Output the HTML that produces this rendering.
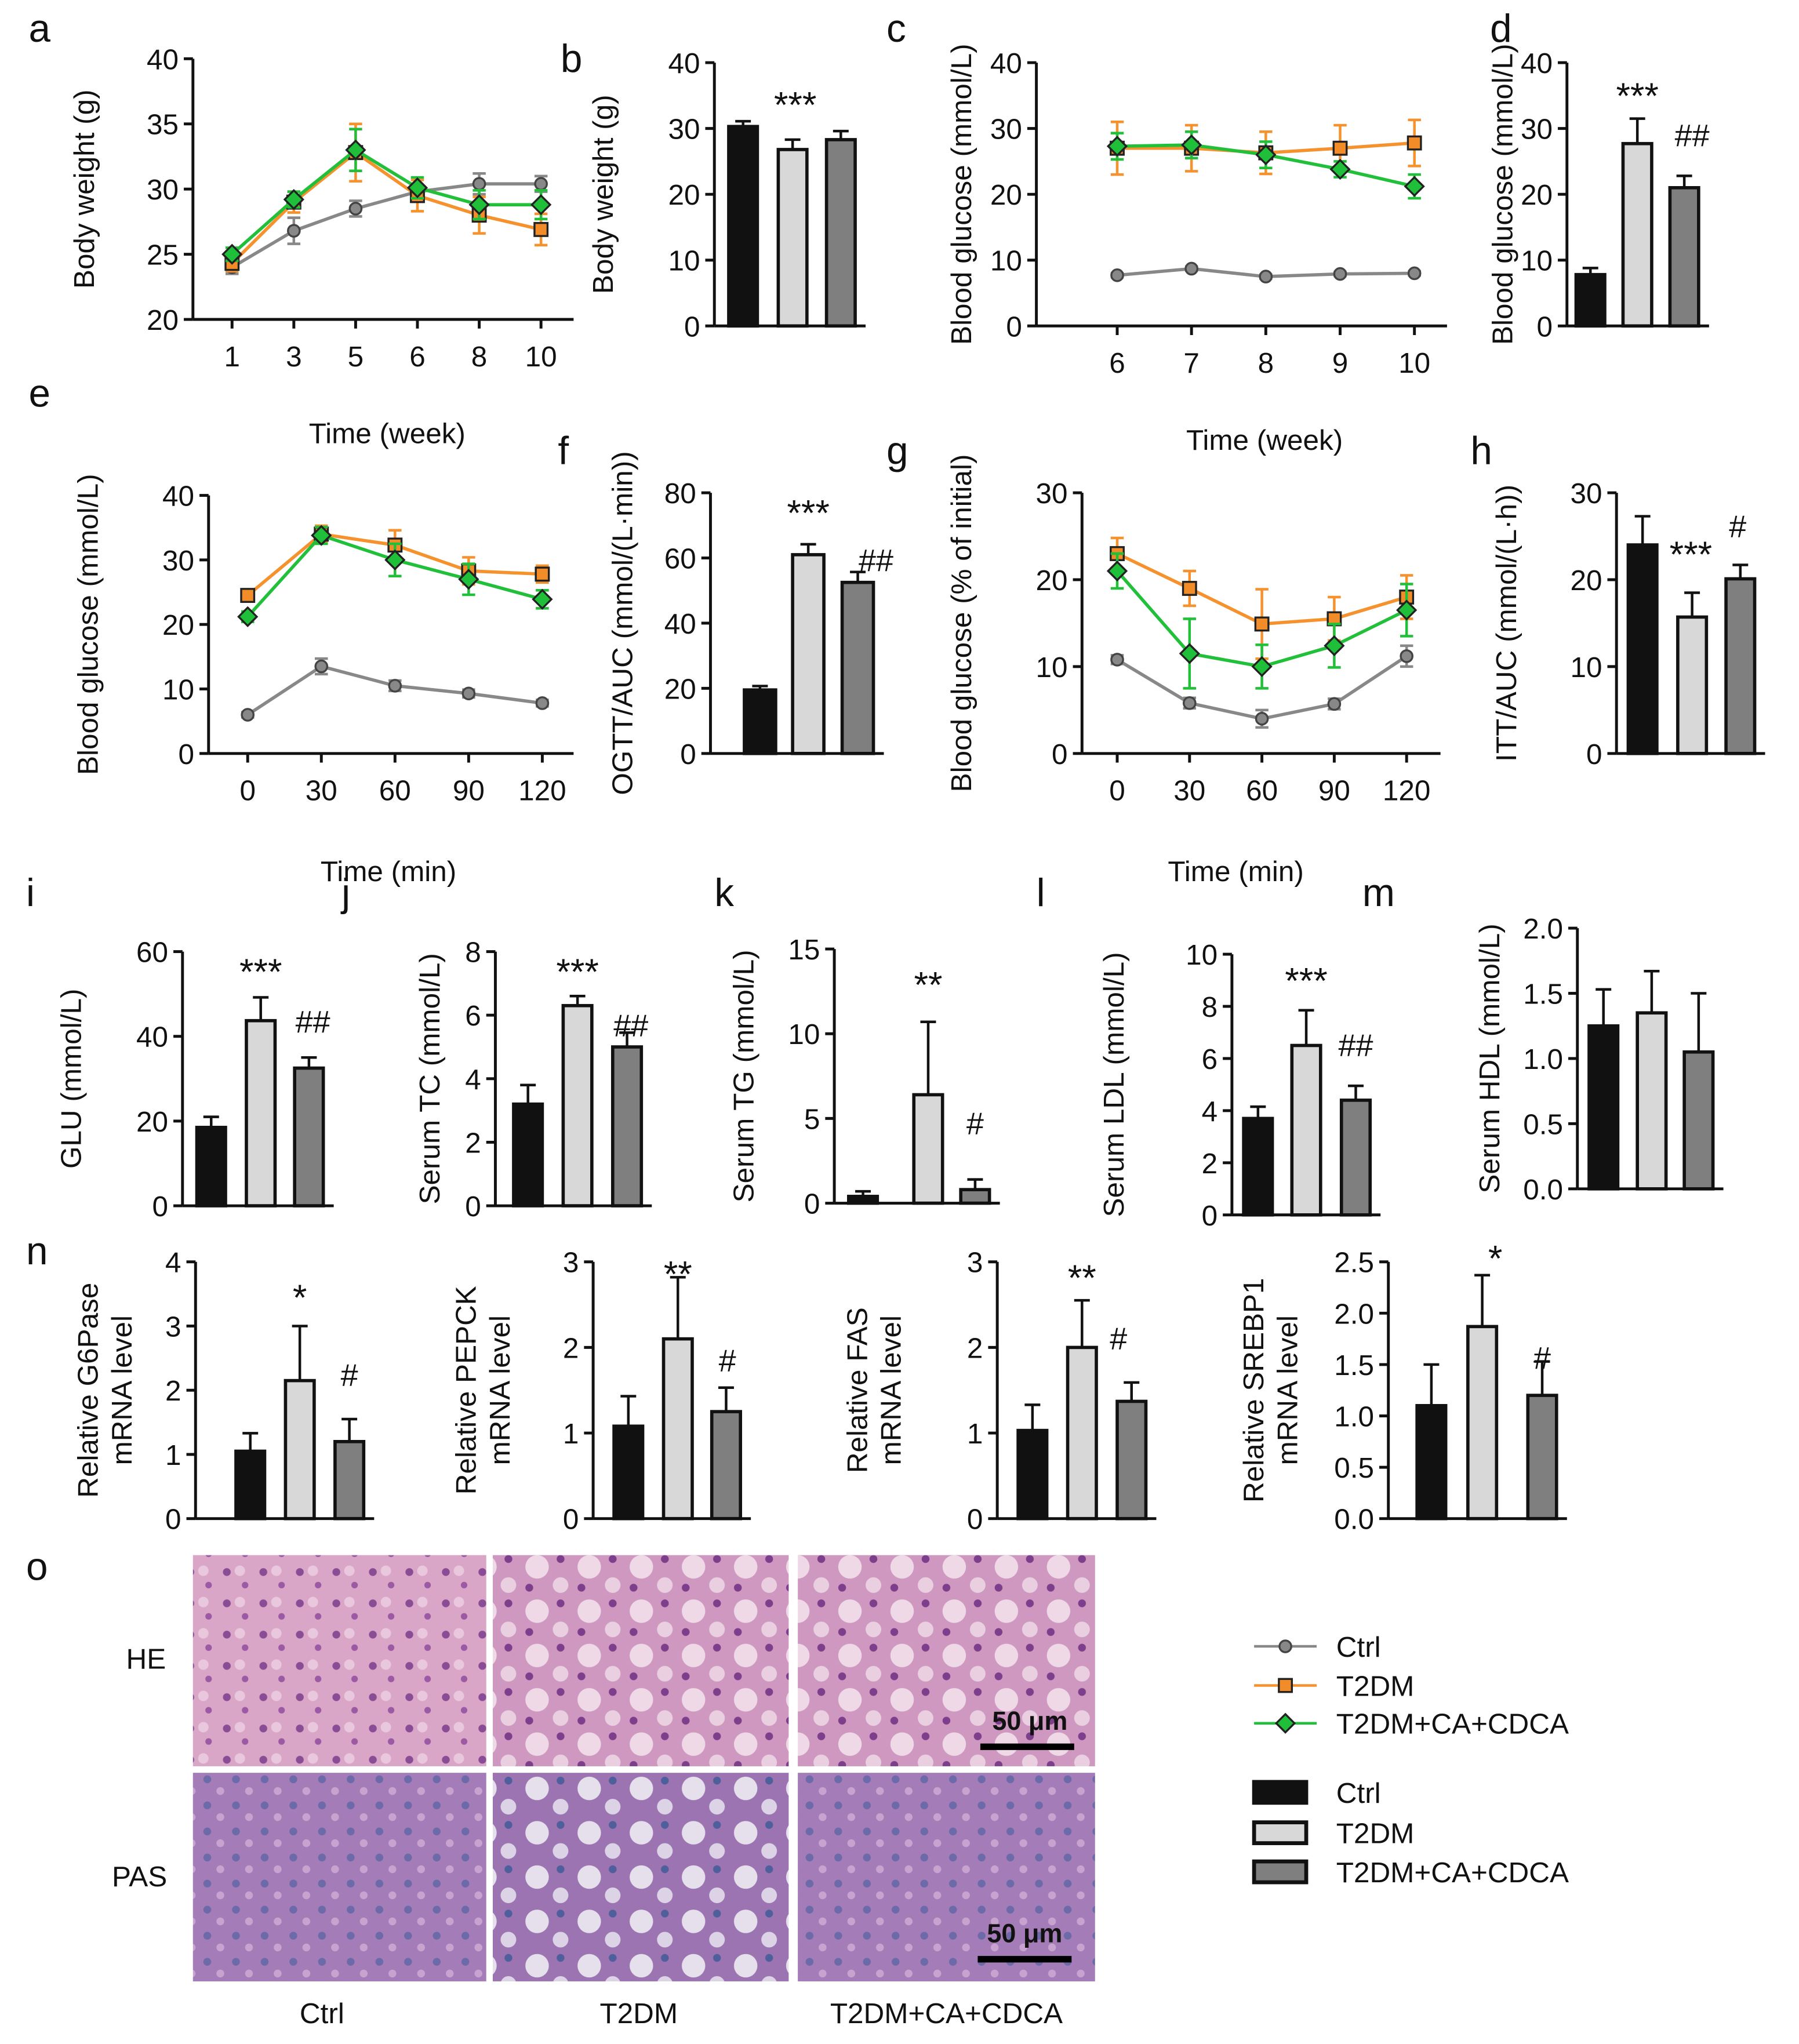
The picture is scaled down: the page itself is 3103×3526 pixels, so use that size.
<!DOCTYPE html>
<html><head><meta charset="utf-8"><style>
html,body{margin:0;padding:0;background:#fff;}
svg{display:block;font-family:"Liberation Sans",Arial,sans-serif;}
</style></head><body>
<svg id="fig" width="3103" height="3526" viewBox="0 0 1380 1568" xmlns="http://www.w3.org/2000/svg">
<defs>
<pattern id="heP" width="28" height="24" patternUnits="userSpaceOnUse">
<rect width="28" height="24" fill="#d9a6c8"/><circle cx="6" cy="6" r="3" fill="#8a4d95"/><circle cx="20" cy="16" r="2.5" fill="#9b5aa3"/><circle cx="16" cy="5" r="4" fill="#e9c7dc"/>
</pattern>
<pattern id="heT" width="40" height="34" patternUnits="userSpaceOnUse">
<rect width="40" height="34" fill="#cf98c0"/><circle cx="12" cy="12" r="9" fill="#efd9e6"/><circle cx="30" cy="26" r="6" fill="#e9cfe0"/><circle cx="30" cy="6" r="3" fill="#7d3f8c"/><circle cx="6" cy="28" r="3" fill="#7d3f8c"/>
</pattern>
<pattern id="pasP" width="22" height="20" patternUnits="userSpaceOnUse">
<rect width="22" height="20" fill="#a37cb8"/><circle cx="5" cy="5" r="3" fill="#6c6aa8"/><circle cx="15" cy="14" r="3" fill="#c9a3cf"/>
</pattern>
<pattern id="pasT" width="40" height="34" patternUnits="userSpaceOnUse">
<rect width="40" height="34" fill="#9c74b2"/><circle cx="12" cy="12" r="9" fill="#e6e0ec"/><circle cx="30" cy="26" r="6" fill="#dcd4e6"/><circle cx="30" cy="6" r="3" fill="#4f5f9c"/>
</pattern>
</defs>
<g id="root"></g>
</svg>
<script>
// ---- data ----
const weeksA=["1","3","5","6","8","10"];
const aCtrl=[24,26.8,28.5,29.8,30.4,30.4], aCtrlE=[0.5,1,0.6,0.5,0.8,0.6];
const aT2=[24.3,29,32.8,29.5,28,26.9], aT2E=[0.6,0.8,2.2,1.2,1.4,1.2];
const aTr=[25,29.2,33,30.1,28.8,28.8], aTrE=[0.5,0.6,1.6,0.8,1.1,1.1];
const bVals=[30.3,26.8,28.3], bErr=[0.8,1.5,1.3];
const weeksC=["6","7","8","9","10"];
const cCtrl=[7.7,8.7,7.5,7.9,8.0], cCtrlE=[0.3,0.3,0.3,0.3,0.3];
const cT2=[27,27,26.3,27,27.8], cT2E=[4,3.5,3.2,3.5,3.5];
const cTr=[27.3,27.5,26,23.8,21.2], cTrE=[2,2,2,1.2,1.8];
const dVals=[7.8,27.7,21], dErr=[1,3.8,1.8];
const minsE=["0","30","60","90","120"];
const eCtrl=[6,13.5,10.5,9.3,7.8], eCtrlE=[0.4,1.2,0.8,0.6,0.5];
const eT2=[24.5,34,32.3,28.3,27.8], eT2E=[0.8,1.3,2.3,2.1,1.3];
const eTr=[21.2,33.8,30,27,23.9], eTrE=[0.8,1.3,2.5,2.4,1.4];
const fVals=[19.5,61,52.5], fErr=[1.2,3.2,3.2];
const gCtrl=[10.8,5.8,4,5.7,11.2], gCtrlE=[0.5,0.6,1,0.6,1.2];
const gT2=[23,19,14.9,15.5,18], gT2E=[1.8,2,4,2.5,2.5];
const gTr=[21,11.5,10,12.4,16.5], gTrE=[2,4,2.5,2.5,3];
const hVals=[24,15.7,20.1], hErr=[3.3,2.8,1.6];
const iVals=[18.5,43.7,32.5], iErr=[2.5,5.5,2.5];
const jVals=[3.2,6.3,5], jErr=[0.6,0.3,0.45];
const kVals=[0.4,6.4,0.8], kErr=[0.3,4.3,0.6];
const lVals=[3.7,6.5,4.4], lErr=[0.45,1.35,0.55];
const mVals=[1.25,1.35,1.05], mErr=[0.28,0.32,0.45];
const n1Vals=[1.05,2.15,1.2], n1Err=[0.28,0.85,0.35];
const n2Vals=[1.08,2.1,1.25], n2Err=[0.35,0.72,0.28];
const n3Vals=[1.03,2.0,1.37], n3Err=[0.3,0.55,0.22];
const n4Vals=[1.1,1.87,1.2], n4Err=[0.4,0.5,0.33];

const NS="http://www.w3.org/2000/svg";
const root=document.getElementById('root');
function el(tag,attrs,parent,text){const e=document.createElementNS(NS,tag);for(const k in attrs)e.setAttribute(k,attrs[k]);if(text!==undefined)e.textContent=text;(parent||root).appendChild(e);return e;}
function txt(x,y,s,size,anchor,name,extra){const t=el('text',Object.assign({x:x,y:y,'font-size':size,'text-anchor':anchor||'middle',fill:'#111'},extra||{}),root,s);


return t;}
function yaxis(ax,y0,y1,ticks,fmt,title,tx,name){
 const g=el('g',{});
 
 
 const lo=ticks[0],hi=ticks[ticks.length-1];
 const sy=v=>y0-(v-lo)/(hi-lo)*(y0-y1);
 el('line',{x1:ax,y1:y1,x2:ax,y2:y0,stroke:'#111','stroke-width':2.2},g);
 ticks.forEach(v=>{el('line',{x1:ax-7,y1:sy(v),x2:ax,y2:sy(v),stroke:'#111','stroke-width':2.2},g);
  const t=el('text',{x:ax-11,y:sy(v)+8,'font-size':22,'text-anchor':'end',fill:'#111'},g,fmt(v));
  
  });
 const ym=(y0+y1)/2;
 const tt=el('text',{x:tx,y:ym,'font-size':22,'text-anchor':'middle',fill:'#111',transform:`rotate(-90 ${tx} ${ym})`},g);
 
 
 title.split('\n').forEach((ln,i,arr)=>{el('tspan',{x:tx,dy:i==0?-(arr.length-1)*13:26},tt,ln);});
 return sy;
}
function err(x,y,yt,col,w){el('line',{x1:x,y1:y,x2:x,y2:yt,stroke:col,'stroke-width':2});el('line',{x1:x-w,y1:yt,x2:x+w,y2:yt,stroke:col,'stroke-width':2});}
function barChart(name,ax,y0,y1,ticks,fmt,title,tx,xs,vals,errs,bw){
 const sy=yaxis(ax,y0,y1,ticks,fmt,title,tx,name);
 const fills=['#111','#d8d8d8','#7f7f7f'];
 vals.forEach((v,i)=>{
  err(xs[i],sy(v),sy(v+errs[i]),'#111',6);
  const r=el('rect',{x:xs[i]-bw/2,y:sy(v),width:bw,height:y0-sy(v),fill:fills[i],stroke:'#111','stroke-width':2.5});
  
  
 });
 el('line',{x1:ax,y1:y0,x2:xs[2]+bw/2+8,y2:y0,stroke:'#111','stroke-width':2.2});
 return sy;
}
function lineChart(name,ax,y0,y1,ticks,fmt,title,tx,cats,xa,xstep,xend,series){
 const sy=yaxis(ax,y0,y1,ticks,fmt,title,tx,name);
 el('line',{x1:ax,y1:y0,x2:xend,y2:y0,stroke:'#111','stroke-width':2.2});
 const sx=i=>xa+i*xstep;
 cats.forEach((c,i)=>{el('line',{x1:sx(i),y1:y0,x2:sx(i),y2:y0+7,stroke:'#111','stroke-width':2.2});
  txt(sx(i),y0+36,c,22,'middle',name+'-x-tick-label');});
 series.forEach(s=>{
  s.v.forEach((v,i)=>{err(sx(i),sy(v),sy(v+s.e[i]),s.c,5);err(sx(i),sy(v),sy(v-s.e[i]),s.c,5);});
  const p=el('polyline',{points:s.v.map((v,i)=>sx(i)+','+sy(v)).join(' '),fill:'none',stroke:s.c,'stroke-width':2.5});
  
  
  s.v.forEach((v,i)=>{let m;
   if(s.m=='c')m=el('circle',{cx:sx(i),cy:sy(v),r:4.5,fill:'#888',stroke:'#444','stroke-width':1.5});
   else if(s.m=='s')m=el('rect',{x:sx(i)-5,y:sy(v)-5,width:10,height:10,fill:'#f28c28',stroke:'#222','stroke-width':1.5});
   else m=el('polygon',{points:`${sx(i)},${sy(v)-7} ${sx(i)+7},${sy(v)} ${sx(i)},${sy(v)+7} ${sx(i)-7},${sy(v)}`,fill:'#1fbf3a',stroke:'#222','stroke-width':1.5});
   
   });
 });
 return sy;
}
const G='#888',O='#f5922e',Gr='#22c03a';
const f0=v=>String(v), f1=v=>v.toFixed(1);
// panel letters
[['a',22,32],['b',430,55],['c',680,32],['d',1143,32],['e',22,312],['f',428,356],['g',680,356],['h',1128,356],['i',20,695],['j',262,695],['k',548,695],['l',795,695],['m',1045,695],['n',20,970],['o',20,1212]].forEach(p=>txt(p[1],p[2],p[0],30,'start','panel-label-'+p[0]));
// a
lineChart('a',148,245,45,[20,25,30,35,40],f0,'Body weight (g)',72,weeksA,178,47.4,440,[
 {n:'ctrl',v:aCtrl,e:aCtrlE,c:G,m:'c'},{n:'t2dm',v:aT2,e:aT2E,c:O,m:'s'},{n:'treated',v:aTr,e:aTrE,c:Gr,m:'d'}]);
txt(297,340,'Time (week)',22,'middle','a-x-axis-title');
// b
barChart('b',548,250,48,[0,10,20,30,40],f0,'Body weight (g)',470,[570,608,645],bVals,bErr,22);
txt(610,90,'***',28,'middle','b-significance');
// c
lineChart('c',795,250,48,[0,10,20,30,40],f0,'Blood glucose (mmol/L)',745,weeksC,857,57,1110,[
 {n:'ctrl',v:cCtrl,e:cCtrlE,c:G,m:'c'},{n:'t2dm',v:cT2,e:cT2E,c:O,m:'s'},{n:'treated',v:cTr,e:cTrE,c:Gr,m:'d'}]);
txt(970,345,'Time (week)',22,'middle','c-x-axis-title');
// d
barChart('d',1202,250,48,[0,10,20,30,40],f0,'Blood glucose (mmol/L)',1160,[1220,1256,1292],dVals,dErr,22);
txt(1256,83,'***',28,'middle','d-significance-ctrl');
txt(1298,112,'##',24,'middle','d-significance-t2dm');
// e
lineChart('e',160,578,380,[0,10,20,30,40],f0,'Blood glucose (mmol/L)',75,minsE,190,56.5,440,[
 {n:'ctrl',v:eCtrl,e:eCtrlE,c:G,m:'c'},{n:'t2dm',v:eT2,e:eT2E,c:O,m:'s'},{n:'treated',v:eTr,e:eTrE,c:Gr,m:'d'}]);
txt(298,676,'Time (min)',22,'middle','e-x-axis-title');
// f
barChart('f',545,578,378,[0,20,40,60,80],f0,'OGTT/AUC (mmol/(L·min))',485,[583,620,658],fVals,fErr,24);
txt(620,403,'***',28,'middle','f-significance-ctrl');
txt(672,438,'##',24,'middle','f-significance-t2dm');
// g
lineChart('g',830,578,378,[0,10,20,30],f0,'Blood glucose (% of initial)',745,minsE,857,55.5,1105,[
 {n:'ctrl',v:gCtrl,e:gCtrlE,c:G,m:'c'},{n:'t2dm',v:gT2,e:gT2E,c:O,m:'s'},{n:'treated',v:gTr,e:gTrE,c:Gr,m:'d'}]);
txt(948,676,'Time (min)',22,'middle','g-x-axis-title');
// h
barChart('h',1240,578,378,[0,10,20,30],f0,'ITT/AUC (mmol/(L·h))',1163,[1260,1298,1335],hVals,hErr,22);
txt(1297,435,'***',28,'middle','h-significance-ctrl');
txt(1333,412,'#',24,'middle','h-significance-t2dm');
// i
barChart('i',140,925,730,[0,20,40,60],f0,'GLU (mmol/L)',62,[162,200,237],iVals,iErr,22);
txt(200,755,'***',28,'middle','i-significance-ctrl');
txt(240,792,'##',24,'middle','i-significance-t2dm');
// j
barChart('j',380,925,730,[0,2,4,6,8],f0,'Serum TC (mmol/L)',337,[405,443,481],jVals,jErr,22);
txt(443,755,'***',28,'middle','j-significance-ctrl');
txt(484,795,'##',24,'middle','j-significance-t2dm');
// k
barChart('k',640,923,728,[0,5,10,15],f0,'Serum TG (mmol/L)',578,[662,712,748],kVals,kErr,22);
txt(712,765,'**',28,'middle','k-significance-ctrl');
txt(748,870,'#',24,'middle','k-significance-t2dm');
// l
barChart('l',945,932,732,[0,2,4,6,8,10],f0,'Serum LDL (mmol/L)',862,[965,1002,1040],lVals,lErr,22);
txt(1002,762,'***',28,'middle','l-significance-ctrl');
txt(1040,810,'##',24,'middle','l-significance-t2dm');
// m
barChart('m',1210,912,712,[0,0.5,1,1.5,2],f1,'Serum HDL (mmol/L)',1150,[1230,1267,1303],mVals,mErr,22);
// n
barChart('n1',150,1165,968,[0,1,2,3,4],f0,'Relative G6Pase\nmRNA level',88,[192,230,268],n1Vals,n1Err,22);
txt(230,1005,'*',28,'middle','n1-significance-ctrl');
txt(268,1063,'#',24,'middle','n1-significance-t2dm');
barChart('n2',455,1165,968,[0,1,2,3],f0,'Relative PEPCK\nmRNA level',378,[482,520,557],n2Vals,n2Err,22);
txt(520,987,'**',28,'middle','n2-significance-ctrl');
txt(558,1052,'#',24,'middle','n2-significance-t2dm');
barChart('n3',765,1165,968,[0,1,2,3],f0,'Relative FAS\nmRNA level',678,[792,830,868],n3Vals,n3Err,22);
txt(830,990,'**',28,'middle','n3-significance-ctrl');
txt(858,1035,'#',24,'middle','n3-significance-t2dm');
barChart('n4',1065,1165,968,[0,0.5,1,1.5,2,2.5],f1,'Relative SREBP1\nmRNA level',982,[1098,1137,1183],n4Vals,n4Err,22);
txt(1147,975,'*',28,'middle','n4-significance-ctrl');
txt(1183,1050,'#',24,'middle','n4-significance-t2dm');
// o histology
const cols=[[148,225],[378,227],[612,228]], rows=[[1193,162],[1360,160]];
const fills=[['url(#heP)','url(#heT)','url(#heT)'],['url(#pasP)','url(#pasT)','url(#pasP)']];
const gnames=['ctrl','t2dm','treated'], snames=['he','pas'];
rows.forEach((r,ri)=>cols.forEach((c,ci)=>{const t=el('rect',{x:c[0],y:r[0],width:c[1],height:r[1],fill:fills[ri][ci]});
 
 }));
txt(112,1280,'HE',22,'middle','row-label-he');
txt(107,1447,'PAS',22,'middle','row-label-pas');
txt(247,1552,'Ctrl',22,'middle','col-label-ctrl');
txt(490,1552,'T2DM',22,'middle','col-label-t2dm');
txt(726,1552,'T2DM+CA+CDCA',22,'middle','col-label-treated');
txt(790,1327,'50 μm',20,'middle','scale-bar-label-he',{'font-weight':'bold'});
el('line',{x1:752,y1:1340,x2:824,y2:1340,stroke:'#000','stroke-width':5});
txt(786,1490,'50 μm',20,'middle','scale-bar-label-pas',{'font-weight':'bold'});
el('line',{x1:750,y1:1503,x2:822,y2:1503,stroke:'#000','stroke-width':5});
// legend
const leg=[['Ctrl',G,'c',1263],['T2DM',O,'s',1293],['T2DM+CA+CDCA',Gr,'d',1322]];
leg.forEach(l=>{el('line',{x1:962,y1:l[3],x2:1010,y2:l[3],stroke:l[1],'stroke-width':2});
 const cx=986,cy=l[3];
 if(l[2]=='c')el('circle',{cx:cx,cy:cy,r:4.5,fill:'#888',stroke:'#444','stroke-width':1.5});
 else if(l[2]=='s')el('rect',{x:cx-5,y:cy-5,width:10,height:10,fill:'#f28c28',stroke:'#222','stroke-width':1.5});
 else el('polygon',{points:`${cx},${cy-7} ${cx+7},${cy} ${cx},${cy+7} ${cx-7},${cy}`,fill:'#1fbf3a',stroke:'#222','stroke-width':1.5});
 txt(1025,l[3]+8,l[0],22,'start','legend-line-'+l[0].toLowerCase());});
const lb=[['Ctrl','#111',1375],['T2DM','#d8d8d8',1406],['T2DM+CA+CDCA','#7f7f7f',1436]];
lb.forEach(l=>{const r=el('rect',{x:962,y:l[2]-8,width:40,height:16,fill:l[1],stroke:'#111','stroke-width':3});
 
 
 txt(1025,l[2]+8,l[0],22,'start','legend-bar-'+l[0].toLowerCase());});
</script>
</body></html>
